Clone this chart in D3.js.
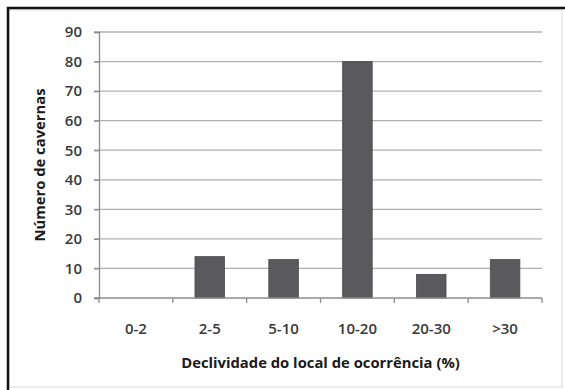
<!DOCTYPE html>
<html>
<head>
<meta charset="utf-8">
<script src="https://cdn.jsdelivr.net/npm/d3@7"></script>
<style>
  body { margin: 0; background: #fff; }
  svg text { font-family: "Open Sans", "DejaVu Sans", sans-serif; fill: #3a3a3a; }
</style>
</head>
<body>
<svg id="chart" width="565" height="390"></svg>
<script>
var categories = ["0-2", "2-5", "5-10", "10-20", "20-30", ">30"];
var values = [0, 14, 13, 80, 8, 13];
var yTicks = [0, 10, 20, 30, 40, 50, 60, 70, 80, 90];
var xTitle = "Declividade do local de ocorrência (%)";
var yTitle = "Número de cavernas";

//////////////////////////////////////////////////////////////////////////////

var svg = d3.select("#chart");

// frame (screenshot border: dark top/left, light right/bottom)
svg.append("rect")
    .attr("x", 9).attr("y", 10)
    .attr("width", 553).attr("height", 377)
    .attr("fill", "#fff")
    .attr("stroke", "#d9d9d9");
svg.append("line").attr("x1", 7).attr("x2", 565).attr("y1", 8).attr("y2", 8)
    .attr("stroke", "#111").attr("stroke-width", 2.5);
svg.append("line").attr("x1", 8).attr("x2", 8).attr("y1", 7).attr("y2", 390)
    .attr("stroke", "#111").attr("stroke-width", 2.5);

var plotL = 99, plotR = 542, plotT = 32, plotB = 298;

var x = d3.scaleBand()
    .domain(categories)
    .range([plotL, plotR])
    .paddingInner(0.6)
    .paddingOuter(0.3);

var xTick = d3.scaleBand().domain(categories).range([plotL, plotR]);

var y = d3.scaleLinear()
    .domain([0, 90])
    .range([plotB, plotT]);

// gridlines
svg.append("g")
    .selectAll("line")
    .data(yTicks.filter(function(d){ return d > 0; }))
    .enter().append("line")
    .attr("x1", plotL - 5).attr("x2", plotR)
    .attr("y1", function(d){ return y(d); })
    .attr("y2", function(d){ return y(d); })
    .attr("stroke", "#b0b0b0")
    .attr("stroke-width", 1.3);

// y axis
var yAxis = d3.axisLeft(y).tickValues(yTicks).tickSize(5).tickPadding(12);
var gy = svg.append("g")
    .attr("transform", "translate(" + plotL + ",0)")
    .call(yAxis);
gy.select(".domain").attr("stroke", "#8c8c8c").attr("stroke-width", 1.3);
gy.selectAll(".tick line").attr("stroke", "#8c8c8c").attr("stroke-width", 1.3);
gy.selectAll(".tick text")
    .attr("font-size", 15)
    .attr("font-weight", 600)
    .style("fill", "#3a3a3a")
    .style("font-family", "'Open Sans', sans-serif");

// bars
svg.selectAll("rect.bar")
    .data(values)
    .enter().append("rect")
    .attr("class", "bar")
    .attr("x", function(d, i){ return x(categories[i]); })
    .attr("y", function(d){ return y(d); })
    .attr("width", x.bandwidth())
    .attr("height", function(d){ return plotB - y(d); })
    .attr("fill", "#5a5a5c")
    .attr("stroke", "#4a4a4c")
    .attr("stroke-width", 0.8);

// x axis
var gx = svg.append("g")
    .attr("transform", "translate(0," + plotB + ")");
gx.append("line")
    .attr("x1", plotL - 5).attr("x2", plotR)
    .attr("stroke", "#8c8c8c").attr("stroke-width", 1.3);
gx.selectAll("line.tk")
    .data(categories)
    .enter().append("line")
    .attr("class", "tk")
    .attr("x1", function(d){ return xTick(d) + xTick.bandwidth(); })
    .attr("x2", function(d){ return xTick(d) + xTick.bandwidth(); })
    .attr("y1", 0).attr("y2", 5)
    .attr("stroke", "#8c8c8c").attr("stroke-width", 1.3);
gx.append("line")
    .attr("x1", plotL).attr("x2", plotL).attr("y1", 0).attr("y2", 5)
    .attr("stroke", "#8c8c8c").attr("stroke-width", 1.3);
gx.selectAll("text")
    .data(categories)
    .enter().append("text")
    .attr("x", function(d){ return xTick(d) + xTick.bandwidth() / 2; })
    .attr("y", 36)
    .attr("text-anchor", "middle")
    .attr("font-size", 15)
    .attr("font-weight", 600)
    .text(function(d){ return d; });

// titles
svg.append("text")
    .attr("x", (plotL + plotR) / 2)
    .attr("y", 368)
    .attr("text-anchor", "middle")
    .attr("font-size", 14.8)
    .attr("font-weight", 700)
    .style("fill", "#1a1a1a")
    .text(xTitle);

svg.append("text")
    .attr("transform", "translate(45," + ((plotT + plotB) / 2) + ") rotate(-90)")
    .attr("text-anchor", "middle")
    .attr("font-size", 14.8)
    .attr("font-weight", 700)
    .style("fill", "#1a1a1a")
    .text(yTitle);
</script>
</body>
</html>
